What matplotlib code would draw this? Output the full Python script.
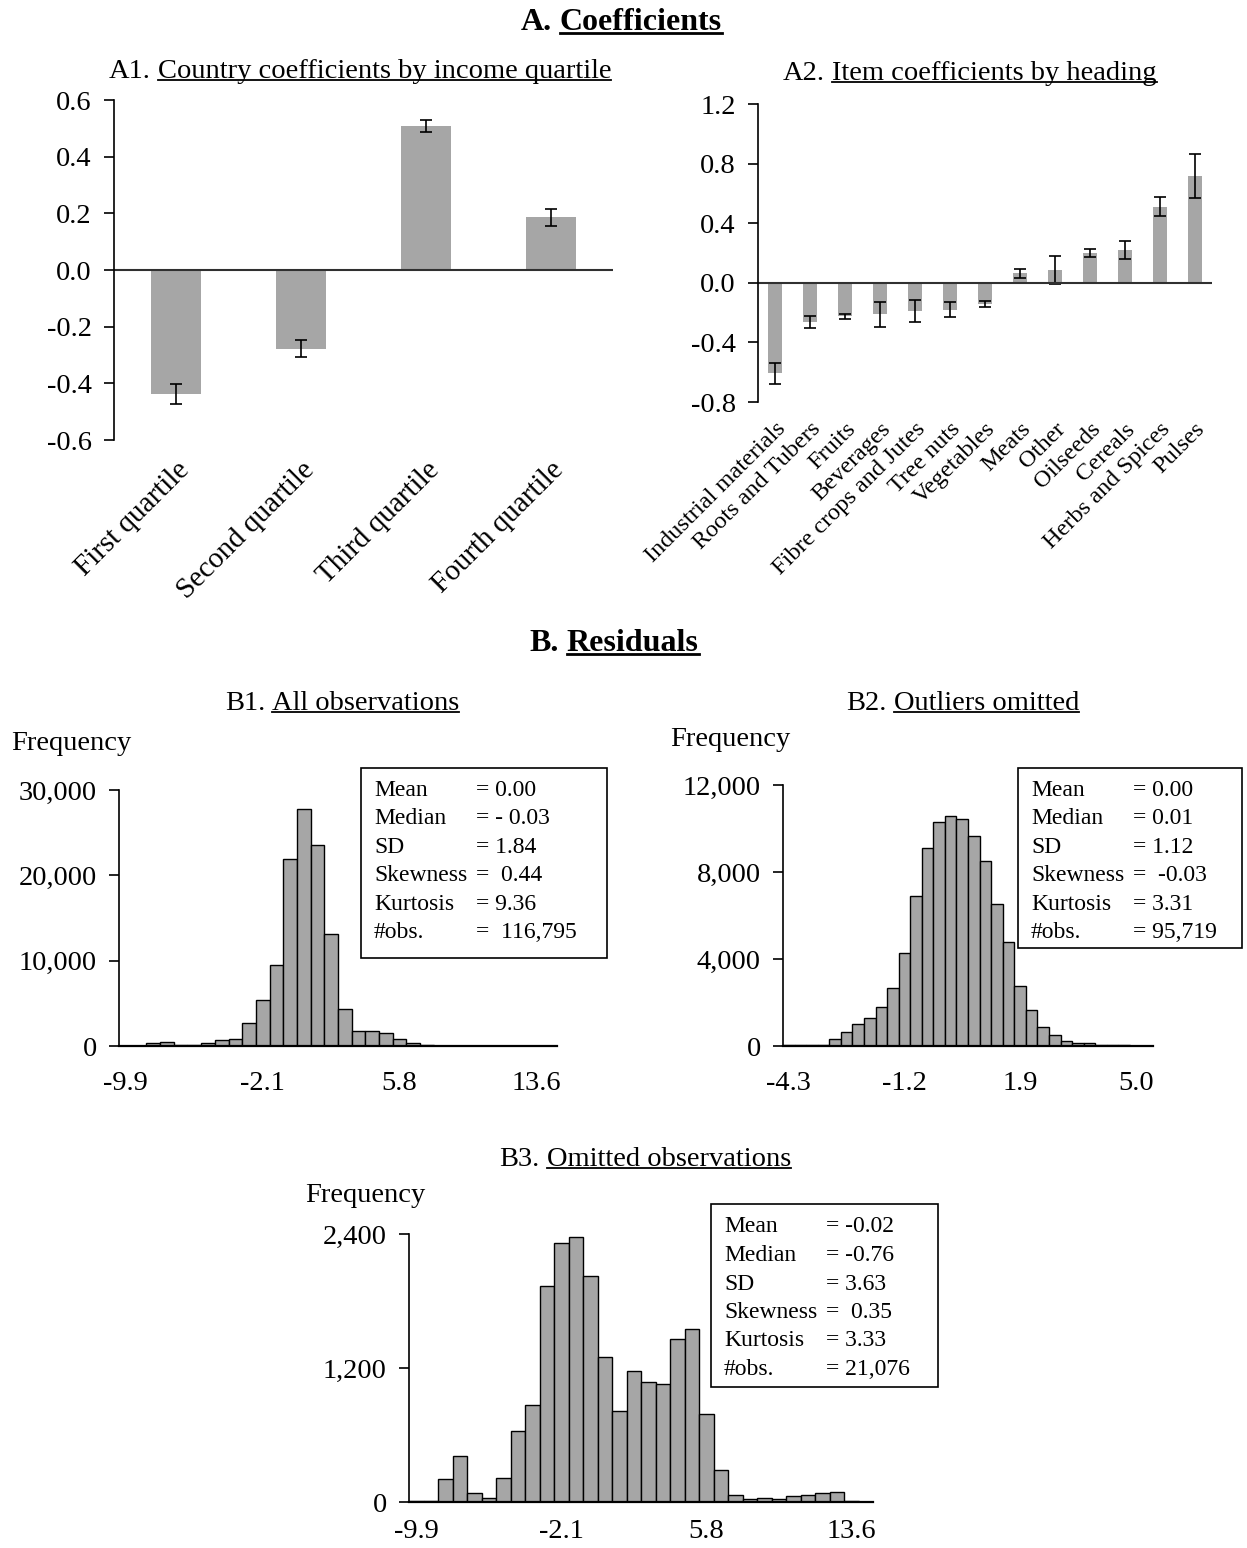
import matplotlib
matplotlib.use("Agg")
import matplotlib.pyplot as plt
from matplotlib.lines import Line2D
from matplotlib.patches import Rectangle
import numpy as np

# ---- data ----
a1_labels = ["First quartile", "Second quartile", "Third quartile", "Fourth quartile"]
a1_coef = [-0.437, -0.278, 0.508, 0.187]
a1_err = [0.035, 0.030, 0.022, 0.030]

a2_labels = ["Industrial materials", "Roots and Tubers", "Fruits", "Beverages",
             "Fibre crops and Jutes", "Tree nuts", "Vegetables", "Meats", "Other",
             "Oilseeds", "Cereals", "Herbs and Spices", "Pulses"]
a2_coef = [-0.607, -0.263, -0.225, -0.211, -0.191, -0.180, -0.142,
           0.065, 0.085, 0.200, 0.220, 0.512, 0.719]
a2_err = [0.070, 0.042, 0.017, 0.084, 0.073, 0.048, 0.018,
          0.030, 0.093, 0.026, 0.063, 0.064, 0.147]

# histogram counts per bin (32 bins each)
b1_counts = [40, 40, 300, 470, 80, 80, 300, 660, 860, 2650, 5370, 9490, 21870, 27780,
             23500, 13070, 4280, 1710, 1710, 1560, 860, 310, 60, 50, 40, 40, 30, 30,
             20, 20, 20, 20]
b2_counts = [30, 30, 30, 40, 300, 640, 1010, 1300, 1790, 2650, 4280, 6880, 9090, 10280,
             10560, 10440, 9640, 8520, 6540, 4770, 2770, 1660, 870, 510, 230, 120, 120,
             40, 30, 30, 20, 0]
b3_counts = [10, 10, 206, 409, 78, 39, 218, 634, 870, 1931, 2316, 2373, 2026, 1300,
             813, 1169, 1073, 1061, 1464, 1545, 786, 290, 66, 27, 39, 27, 51, 66, 78,
             93, 9, 0]

b1_xlabels = ["-9.9", "-2.1", "5.8", "13.6"]
b2_xlabels = ["-4.3", "-1.2", "1.9", "5.0"]
b3_xlabels = ["-9.9", "-2.1", "5.8", "13.6"]

b1_yticks = [0, 10000, 20000, 30000]
b2_yticks = [0, 4000, 8000, 12000]
b3_yticks = [0, 1200, 2400]

stat_names = ["Mean", "Median", "SD", "Skewness", "Kurtosis", "#obs."]
b1_stats = ["= 0.00", "= - 0.03", "= 1.84", "=  0.44", "= 9.36", "=  116,795"]
b2_stats = ["= 0.00", "= 0.01", "= 1.12", "=  -0.03", "= 3.31", "= 95,719"]
b3_stats = ["= -0.02", "= -0.76", "= 3.63", "=  0.35", "= 3.33", "= 21,076"]

# ---- figure ----
W, H = 1247, 1548
plt.rcParams["font.family"] = ["Liberation Serif", "DejaVu Serif"]
fig = plt.figure(figsize=(W / 100, H / 100), dpi=100)
GRAY = "#a6a6a6"
TICK = 20.5


def add_ax(l, t, r, b):
    return fig.add_axes([l / W, 1 - b / H, (r - l) / W, (b - t) / H])


def title_under(cx, base, prefix, body, size, weight="normal"):
    # prefix plain, body underlined; baseline at pixel row `base`
    r = fig.canvas.get_renderer()
    t1 = fig.text(0, 1 - base / H, prefix, fontsize=size, fontweight=weight, va="baseline")
    t2 = fig.text(0, 1 - base / H, body, fontsize=size, fontweight=weight, va="baseline")
    w1 = t1.get_window_extent(r).width
    w2 = t2.get_window_extent(r).width
    gap = size * 0.35
    left = cx - (w1 + gap + w2) / 2
    t1.set_x(left / W)
    t2.set_x((left + w1 + gap) / W)
    bb = t2.get_window_extent(r)
    yl = 1 - (base + size * 0.12) / H
    fig.add_artist(Line2D([bb.x0 / W, bb.x1 / W], [yl, yl], color="black",
                          lw=1.3 if weight == "normal" else 2.0))


def bar_panel(ax, labels, coef, err, yticks, label_size):
    x = np.arange(len(labels))
    ax.bar(x, coef, width=0.4, color=GRAY, yerr=err, capsize=4,
           error_kw=dict(elinewidth=1.2, capthick=1.2, ecolor="black"))
    ax.axhline(0, color="#303030", lw=1.5)
    ax.set_xlim(-0.5, len(labels) - 0.5)
    ax.set_ylim(yticks[0], yticks[-1])
    ax.set_yticks(yticks)
    ax.set_yticklabels([f"{v:.1f}" for v in yticks])
    for s in ["top", "right", "bottom"]:
        ax.spines[s].set_visible(False)
    ax.spines["left"].set_linewidth(1.2)
    ax.tick_params(axis="y", direction="out", length=7, width=1.2, labelsize=TICK, pad=9)
    ax.set_xticks(x)
    ax.set_xticklabels(labels, rotation=45, ha="right", rotation_mode="anchor",
                       fontsize=label_size)
    ax.tick_params(axis="x", length=0, pad=12)


def hist_panel(ax, counts, xlabels, yticks, xpad=18):
    k = np.arange(len(counts))
    ax.bar(k, counts, width=1.0, color=GRAY, edgecolor="black", linewidth=1.0)
    ax.set_xlim(-0.5, len(counts) - 0.5)
    ax.set_ylim(0, yticks[-1])
    ax.set_xticks([0, 10, 20, 30])
    ax.set_xticklabels(xlabels)
    ax.set_yticks(yticks)
    ax.set_yticklabels([f"{v:,}" for v in yticks])
    for s in ["top", "right"]:
        ax.spines[s].set_visible(False)
    ax.spines["left"].set_linewidth(1.2)
    ax.spines["bottom"].set_linewidth(1.6)
    ax.tick_params(axis="y", direction="out", length=7, width=1.2, labelsize=TICK, pad=9)
    ax.tick_params(axis="x", length=0, labelsize=TICK, pad=xpad)


def stats_box(l, t, r, b, first_row, values):
    fig.add_artist(Rectangle((l / W, 1 - b / H), (r - l) / W, (b - t) / H,
                             transform=fig.transFigure, facecolor="white",
                             edgecolor="black", lw=1.2))
    for i, (name, val) in enumerate(zip(stat_names, values)):
        y = 1 - (first_row + i * 28.5) / H
        fig.text((l + 13) / W, y, name, fontsize=17, va="center")
        fig.text((l + 115) / W, y, val, fontsize=17, va="center")


# A1
ax1 = add_ax(114, 100, 613, 440)
bar_panel(ax1, a1_labels, a1_coef, a1_err, [-0.6, -0.4, -0.2, 0.0, 0.2, 0.4, 0.6], 21)

# A2
ax2 = add_ax(758, 104, 1212, 402)
bar_panel(ax2, a2_labels, a2_coef, a2_err, [-0.8, -0.4, 0.0, 0.4, 0.8, 1.2], 17.5)

# B1
ax3 = add_ax(119, 790, 557, 1046)
hist_panel(ax3, b1_counts, b1_xlabels, b1_yticks)
stats_box(361, 768, 607, 958, 790, b1_stats)

# B2
ax4 = add_ax(783, 785, 1153, 1046)
hist_panel(ax4, b2_counts, b2_xlabels, b2_yticks)
stats_box(1018, 768, 1242, 948, 790, b2_stats)

# B3
ax5 = add_ax(409, 1234, 873, 1502)
hist_panel(ax5, b3_counts, b3_xlabels, b3_yticks, xpad=12)
stats_box(711, 1204, 938, 1387, 1227, b3_stats)

# axis captions
fig.text(11 / W, 1 - 743 / H, "Frequency", fontsize=20.5, va="center")
fig.text(670 / W, 1 - 740 / H, "Frequency", fontsize=20.5, va="center")
fig.text(305 / W, 1 - 1195 / H, "Frequency", fontsize=20.5, va="center")

# titles
title_under(621, 30, "A.", "Coefficients", 23, "bold")
title_under(360, 78, "A1.", "Country coefficients by income quartile", 20.5)
title_under(970, 80, "A2.", "Item coefficients by heading", 20.5)
title_under(614, 651, "B.", "Residuals", 23, "bold")
title_under(342, 710, "B1.", "All observations", 20.5)
title_under(963, 710, "B2.", "Outliers omitted", 20.5)
title_under(645, 1166, "B3.", "Omitted observations", 20.5)

fig.savefig("out.png", dpi=100, facecolor="white")
